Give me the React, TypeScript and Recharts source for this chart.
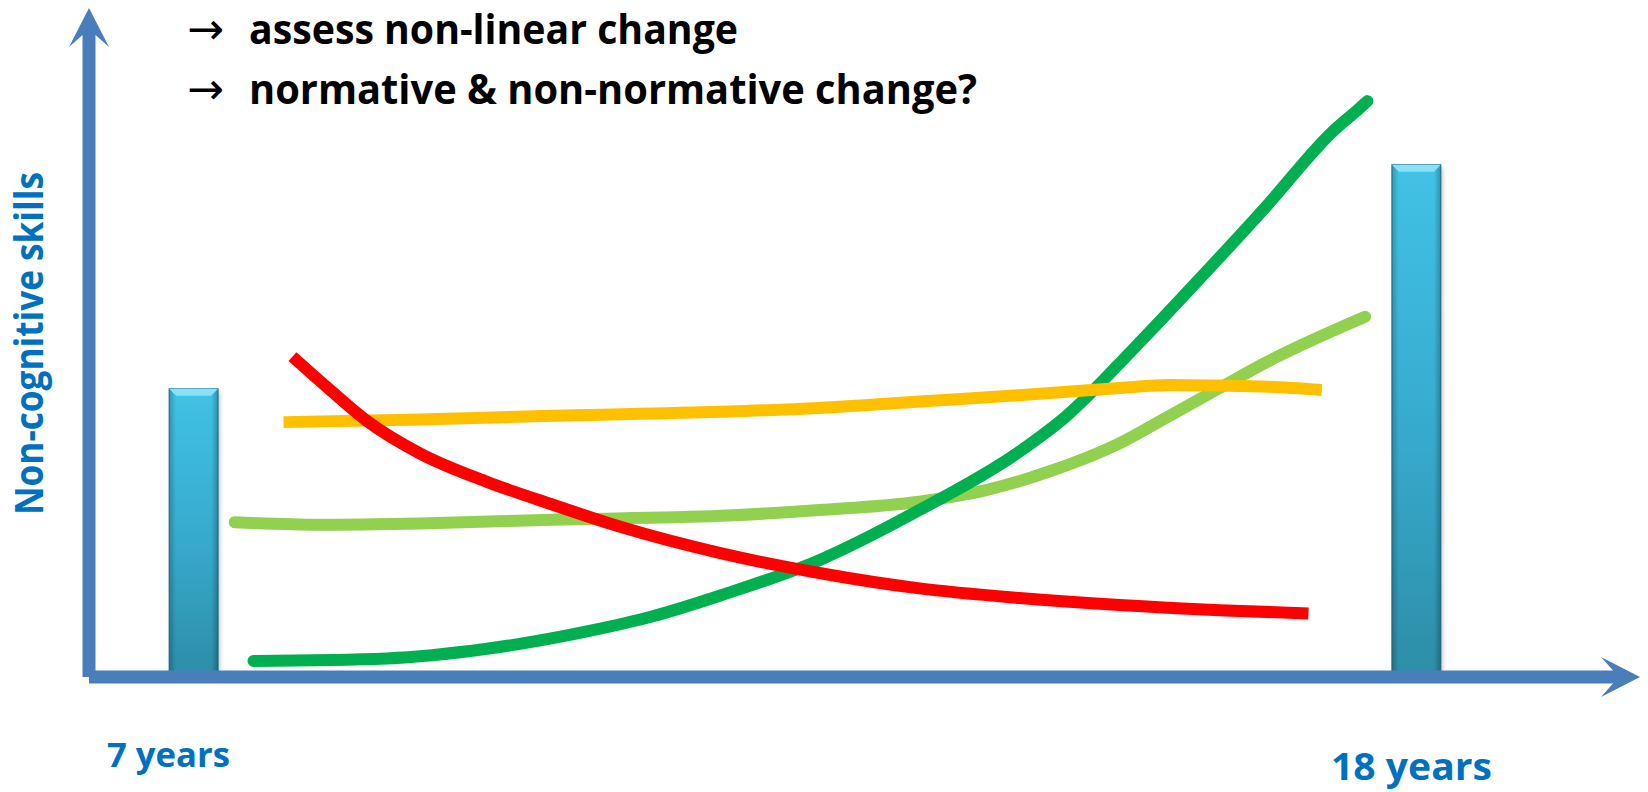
import { ComposedChart, Bar, Line, XAxis, YAxis } from 'recharts'

// measurement points (age in years)
const ages = [7, 18]
const barValues = [44.9, 79.8]

const darkGreenAges = [7.54, 8.74, 9.64, 10.54, 11.14, 11.74, 12.63, 13.53, 14.43, 14.85, 15.45, 16.05, 16.65, 17.25, 17.49, 17.56]
const darkGreenValues = [2.5, 2.9, 4.4, 7.1, 9.5, 12.7, 18.2, 26.0, 35.1, 40.6, 51.0, 62.0, 73.3, 85.0, 88.6, 89.7]

const lightGreenAges = [7.37, 8.14, 9.04, 10.23, 11.74, 12.63, 13.53, 14.13, 14.73, 15.33, 15.75, 16.23, 16.65, 17.54]
const lightGreenValues = [24.1, 23.7, 23.9, 24.5, 25.1, 26.0, 27.3, 29.1, 32.2, 36.4, 40.4, 45.0, 49.0, 56.1]

const yellowAges = [7.81, 9.04, 10.23, 11.74, 12.63, 13.53, 14.43, 15.33, 15.78, 16.23, 16.68, 17.15]
const yellowValues = [39.7, 40.1, 40.7, 41.3, 41.9, 42.9, 43.9, 45.0, 45.5, 45.4, 45.2, 44.7]

const redAges = [7.89, 8.23, 8.56, 9.04, 9.64, 10.24, 10.84, 11.74, 12.63, 13.53, 14.43, 15.33, 16.23, 17.03]
const redValues = [49.9, 44.7, 39.9, 34.8, 30.4, 26.8, 23.4, 19.3, 16.2, 13.8, 12.3, 11.2, 10.4, 9.9]

const titleLines = ['assess non-linear change', 'normative & non-normative change?']
const yLabel = 'Non-cognitive skills'
const startLabel = '7 years'
const endLabel = '18 years'

const toPoints = (xs: number[], ys: number[]) => xs.map((age, i) => ({ age, skill: ys[i] }))

const barData = ages.map((age, i) => ({ age, skill: barValues[i] }))
const darkGreen = toPoints(darkGreenAges, darkGreenValues)
const lightGreen = toPoints(lightGreenAges, lightGreenValues)
const yellow = toPoints(yellowAges, yellowValues)
const red = toPoints(redAges, redValues)

const AXIS = '#4A7EBB'
const LABEL = '#0070C0'
const AGE_DOMAIN: [number, number] = [6.06, 19.77]

function GlassBar(props: any) {
  const { x, y, width, height } = props
  if (!height || height <= 0) return null
  const b = 7
  return (
    <g>
      <rect x={x + 2} y={y + 3} width={width} height={height + 3} fill="rgba(0,0,0,0.22)" filter="url(#barShadow)" />
      <rect x={x} y={y} width={width} height={height} fill="url(#barFill)" stroke="#2A7890" strokeWidth={1} />
      <rect x={x} y={y} width={width} height={height} fill="url(#barEdge)" />
      <polygon
        points={`${x},${y} ${x + width},${y} ${x + width - b},${y + b} ${x + b},${y + b}`}
        fill="#86E2F8"
      />
    </g>
  )
}

export default function App() {
  return (
    <div style={{ position: 'absolute', left: 0, top: 0, width: 1648, height: 792, background: '#fff' }}>
      <ComposedChart
        width={1648}
        height={792}
        data={barData}
        margin={{ top: 35, right: 35, bottom: 114, left: 88 }}
      >
        <defs>
          <marker
            id="axisArrow"
            viewBox="-15 -25 45 50"
            markerWidth={45}
            markerHeight={50}
            refX={0}
            refY={0}
            markerUnits="userSpaceOnUse"
            orient="auto-start-reverse"
          >
            <path d="M 27 0 L -12 -20 L 0 -6.5 L 0 6.5 L -12 20 Z" fill={AXIS} />
          </marker>
          <linearGradient id="barFill" x1="0" y1="0" x2="0" y2="1">
            <stop offset="0%" stopColor="#41C2E6" />
            <stop offset="55%" stopColor="#36A9CC" />
            <stop offset="100%" stopColor="#2D8DA6" />
          </linearGradient>
          <linearGradient id="barEdge" x1="0" y1="0" x2="1" y2="0">
            <stop offset="0%" stopColor="#000" stopOpacity={0.22} />
            <stop offset="14%" stopColor="#000" stopOpacity={0} />
            <stop offset="86%" stopColor="#000" stopOpacity={0} />
            <stop offset="100%" stopColor="#000" stopOpacity={0.25} />
          </linearGradient>
          <filter id="barShadow" x="-30%" y="-10%" width="160%" height="120%">
            <feGaussianBlur stdDeviation="2" />
          </filter>
        </defs>
        <XAxis
          dataKey="age"
          type="number"
          domain={AGE_DOMAIN}
          ticks={ages}
          allowDataOverflow
          height={1}
          tick={false}
          tickLine={false}
          axisLine={{ stroke: AXIS, strokeWidth: 13, markerEnd: 'url(#axisArrow)' }}
        />
        {/* separate hidden axis so the bar width is not squeezed by the line points */}
        <XAxis xAxisId="bars" dataKey="age" type="number" domain={AGE_DOMAIN} allowDataOverflow hide />
        <YAxis
          type="number"
          domain={[0, 100]}
          ticks={[0, 100]}
          allowDataOverflow
          width={1}
          tick={false}
          tickLine={false}
          axisLine={{ stroke: AXIS, strokeWidth: 13, markerStart: 'url(#axisArrow)' }}
        />
        <Bar xAxisId="bars" dataKey="skill" barSize={49} shape={GlassBar} isAnimationActive={false} />
        <Line data={lightGreen} dataKey="skill" type="monotone" stroke="#92D050" strokeWidth={12} strokeLinecap="round" dot={false} activeDot={false} isAnimationActive={false} />
        <Line data={darkGreen} dataKey="skill" type="monotone" stroke="#00B050" strokeWidth={12} strokeLinecap="round" dot={false} activeDot={false} isAnimationActive={false} />
        <Line data={yellow} dataKey="skill" type="monotone" stroke="#FFC000" strokeWidth={12} strokeLinecap="butt" dot={false} activeDot={false} isAnimationActive={false} />
        <Line data={red} dataKey="skill" type="monotone" stroke="#FF0000" strokeWidth={12} strokeLinecap="butt" dot={false} activeDot={false} isAnimationActive={false} />
      </ComposedChart>
      <svg
        width={1648}
        height={792}
        style={{ position: 'absolute', left: 0, top: 0, pointerEvents: 'none' }}
      >
        <g fontFamily="'Open Sans', sans-serif" fontWeight={700}>
          <text x={187} y={44} fontFamily="'DejaVu Sans'" fontWeight={400} fontSize={44} fill="#000">→</text>
          <text x={249} y={44} fontSize={42} fill="#000" textLength={489} lengthAdjust="spacingAndGlyphs">
            {titleLines[0]}
          </text>
          <text x={187} y={104} fontFamily="'DejaVu Sans'" fontWeight={400} fontSize={44} fill="#000">→</text>
          <text x={249} y={104} fontSize={42} fill="#000" textLength={728} lengthAdjust="spacingAndGlyphs">
            {titleLines[1]}
          </text>
          <text
            transform="translate(43,515) rotate(-90)"
            fontSize={39}
            fill={LABEL}
            textLength={343}
            lengthAdjust="spacingAndGlyphs"
          >
            {yLabel}
          </text>
          <text x={107} y={767} fontSize={34} fill={LABEL} textLength={123} lengthAdjust="spacingAndGlyphs">
            {startLabel}
          </text>
          <text x={1331} y={780} fontSize={38} fill={LABEL} textLength={161} lengthAdjust="spacingAndGlyphs">
            {endLabel}
          </text>
        </g>
      </svg>
    </div>
  )
}
